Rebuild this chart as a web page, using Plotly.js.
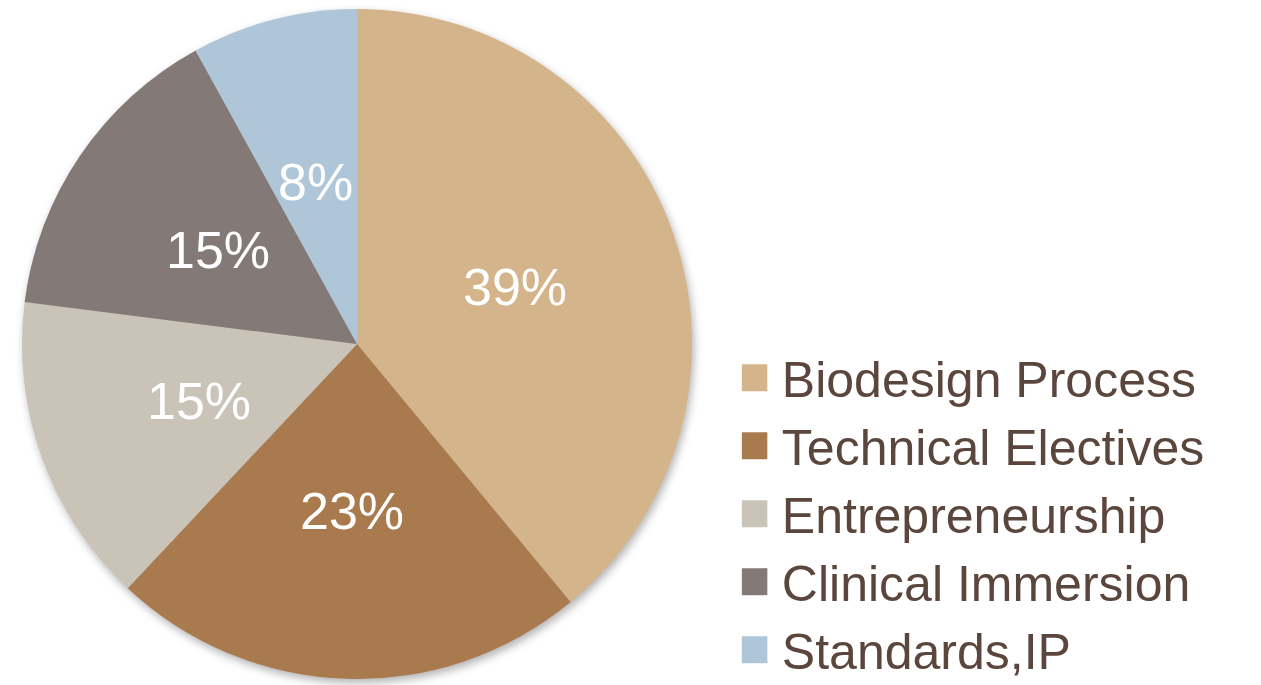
<!DOCTYPE html>
<html>
<head>
<meta charset="utf-8">
<script src="https://cdn.plot.ly/plotly-3.0.1.min.js"></script>
<style>
html,body{margin:0;padding:0;background:#fff;}
#chart{width:1261px;height:685px;}
.pielayer{filter:drop-shadow(2px 4px 4px rgba(0,0,0,0.3));}
</style>
</head>
<body>
<div id="chart"></div>
<script>
const categories = ["Biodesign Process", "Technical Electives", "Entrepreneurship", "Clinical Immersion", "Standards,IP"];
const values = [39, 23, 15, 15, 8];
const colors = ["#D4B48A", "#A97A4E", "#C9C3B8", "#837A78", "#AFC6D9"];

const W = 1261, H = 685;
const domX = [0.01745, 0.5488], domY = [0.00876, 0.98686];

const trace = {
  type: "pie",
  labels: categories,
  values: values,
  sort: false,
  direction: "clockwise",
  rotation: 0,
  marker: {colors: colors, line: {width: 0}},
  textinfo: "none",
  domain: {x: domX, y: domY},
  hoverinfo: "label+percent"
};

// percentage labels placed at half radius along each slice's mid-angle, computed from the values
const total = values.reduce((a, b) => a + b, 0);
const cx = (domX[0] + domX[1]) / 2, cy = (domY[0] + domY[1]) / 2;
const R = Math.min((domX[1] - domX[0]) * W, (domY[1] - domY[0]) * H) / 2;
let cum = 0;
const annotations = values.map(function(v){
  const mid = (cum + v / 2) / total * 2 * Math.PI;
  cum += v;
  return {
    xref: "paper", yref: "paper",
    x: cx + 0.5 * R * Math.sin(mid) / W,
    y: cy + 0.5 * R * Math.cos(mid) / H,
    text: Math.round(v / total * 100) + "%",
    showarrow: false,
    xanchor: "center", yanchor: "middle",
    font: {family: "Liberation Sans, Arial, sans-serif", size: 52, color: "#ffffff"}
  };
});

const layout = {
  width: W,
  height: H,
  margin: {l: 0, r: 0, t: 0, b: 0, autoexpand: false},
  paper_bgcolor: "#ffffff",
  showlegend: true,
  annotations: annotations,
  legend: {
    x: 0.5883, xanchor: "left",
    y: 0.5056, yanchor: "top",
    font: {family: "Liberation Sans, Arial, sans-serif", size: 50, color: "#5A463C"},
    traceorder: "normal",
    itemclick: false,
    bgcolor: "rgba(0,0,0,0)"
  }
};

Plotly.newPlot("chart", [trace], layout, {displayModeBar: false, staticPlot: true}).then(function(){
  document.querySelectorAll("path.legendpie").forEach(function(p){
    p.setAttribute("d", "M5.5,13.5H-21.5V-13.5H5.5Z");
  });
});
</script>
</body>
</html>
